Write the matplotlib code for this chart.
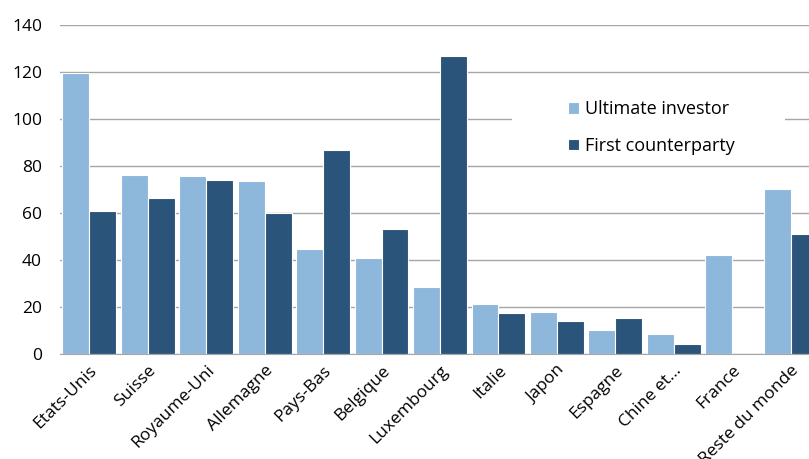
import matplotlib.pyplot as plt
import numpy as np
from matplotlib.patches import Rectangle

categories = ["Etats-Unis", "Suisse", "Royaume-Uni", "Allemagne", "Pays-Bas",
              "Belgique", "Luxembourg", "Italie", "Japon", "Espagne",
              "Chine et...", "France", "Reste du monde"]
ultimate_investor = [119.5, 76.2, 75.8, 73.6, 44.8, 40.7, 28.7, 21.1, 17.9, 10.2, 8.5, 42.0, 70.2]
first_counterparty = [61.0, 66.4, 74.0, 60.0, 86.8, 53.2, 126.8, 17.3, 14.0, 15.2, 4.4, 0.0, 50.9]
y_ticks = [0, 20, 40, 60, 80, 100, 120, 140]

plt.rcParams['font.family'] = ['Open Sans', 'DejaVu Sans']

light = "#8db7db"
dark = "#2a5479"

fig = plt.figure(figsize=(8.09, 4.59), dpi=100)
ax = fig.add_axes([60 / 809, 1 - 354 / 459, 760 / 809, 329 / 459])

x = np.arange(len(categories))
w = 0.46
ax.bar(x - w / 2, ultimate_investor, width=w, color=light, edgecolor="white",
       linewidth=0.8, label="Ultimate investor", zorder=3)
ax.bar(x + w / 2, first_counterparty, width=w, color=dark, edgecolor="white",
       linewidth=0.8, label="First counterparty", zorder=3)

ax.set_xlim(-0.5, len(categories) - 0.5)
ax.set_ylim(0, 140)
ax.set_yticks(y_ticks)
ax.set_xticks(x)
ax.set_xticklabels(categories, rotation=45, ha="right", rotation_mode="anchor", fontsize=12.5)
ax.tick_params(axis="y", length=0, labelsize=12.5, pad=13)
ax.tick_params(axis="x", length=0, pad=6)
ax.grid(axis="y", color="#a6a6a6", linewidth=1, zorder=0)
ax.set_axisbelow(True)
for s in ["left", "right", "top"]:
    ax.spines[s].set_visible(False)
ax.spines["bottom"].set_color("#a6a6a6")
ax.spines["bottom"].set_zorder(4)

# white legend area covering the gridlines
ax.add_patch(Rectangle((0.595, 0.596), 0.359, 0.237, transform=ax.transAxes,
                       facecolor="white", edgecolor="none", zorder=2))

leg = ax.legend(loc="center left", bbox_to_anchor=(0.668, 0.688), frameon=False,
                fontsize=13, handlelength=0.6, handleheight=0.6, handletextpad=0.35,
                labelspacing=1.05, borderpad=0, borderaxespad=0)
leg.set_zorder(5)

fig.savefig("out.png", dpi=100)
